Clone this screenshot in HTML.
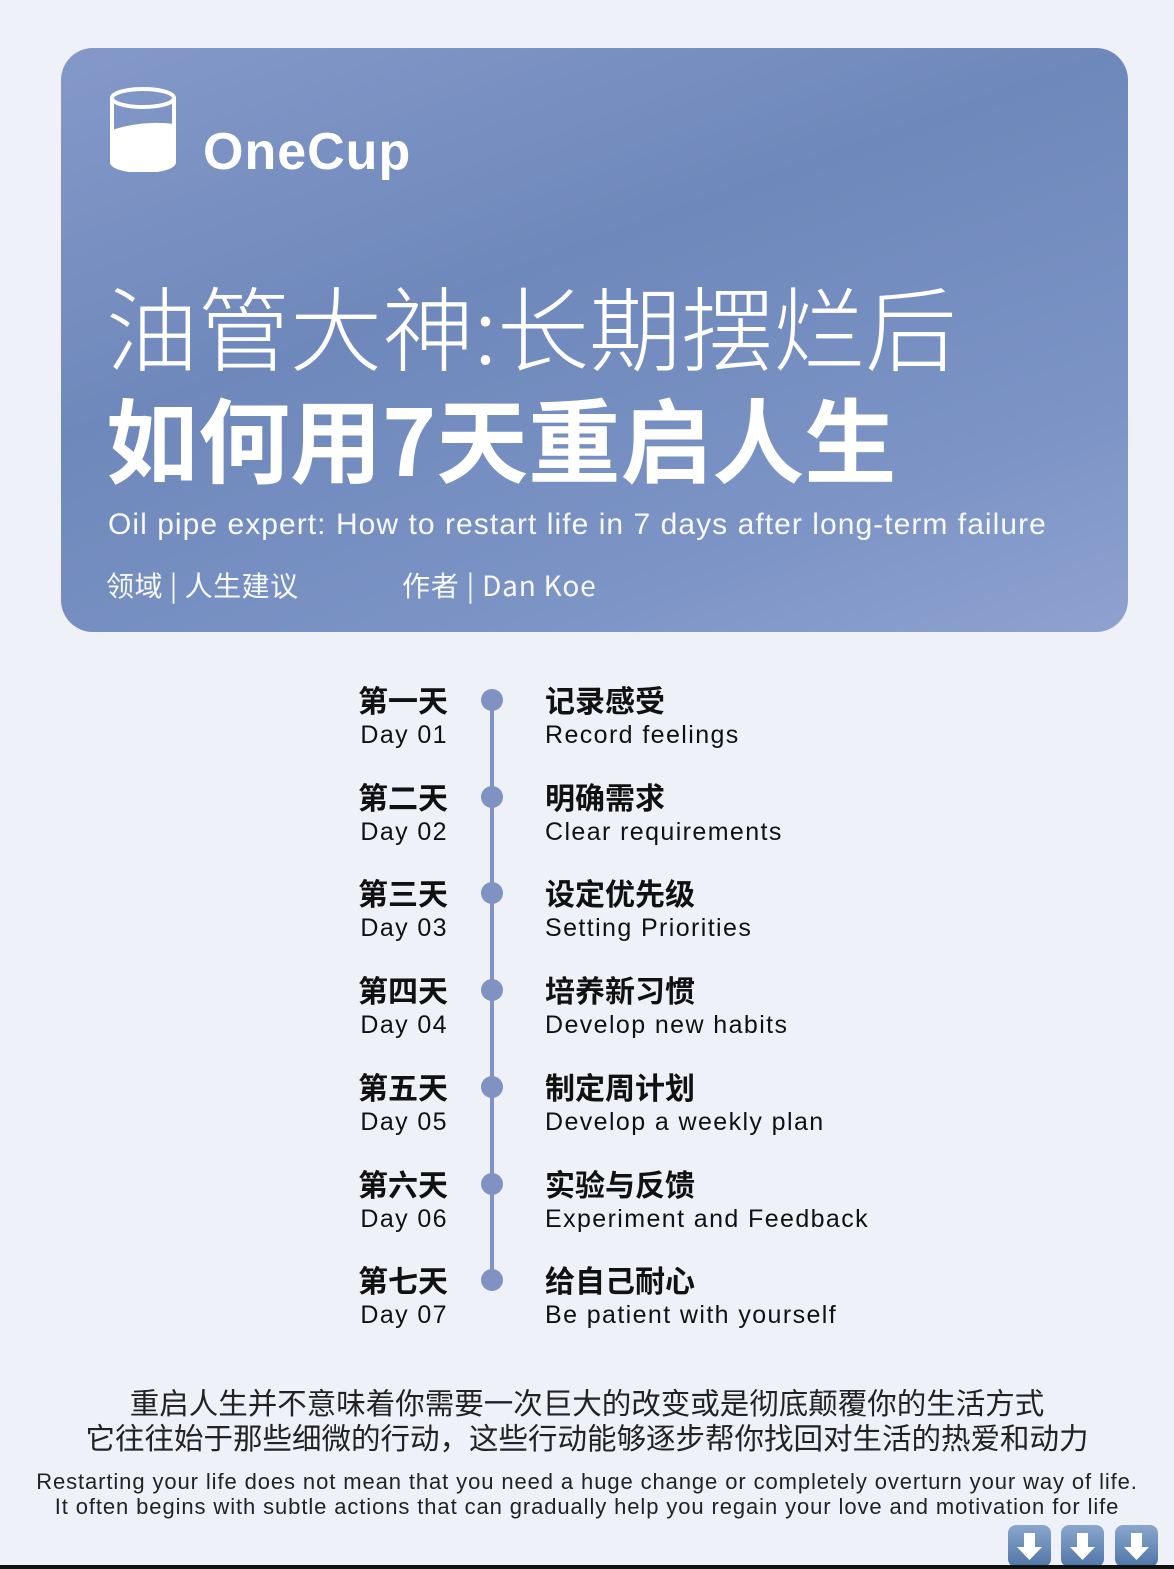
<!DOCTYPE html>
<html><head><meta charset="utf-8"><style>
*{margin:0;padding:0;box-sizing:border-box}
body{width:1174px;height:1569px;background:#eef1f8;position:relative;overflow:hidden;font-family:"Liberation Sans","Noto Sans CJK SC",sans-serif;color:#111}
.a{position:absolute;white-space:nowrap}
#card{position:absolute;left:61px;top:48px;width:1067px;height:584px;border-radius:32px;background:linear-gradient(160deg,#8499c9 0%,#6f88bb 40%,#7b93c5 75%,#8ea2d0 100%)}
.w{color:#fff}
.cn{font-family:"Noto Sans CJK SC",sans-serif}
.lt{right:726px;text-align:right}
.rt{left:545px}
.h{font-size:30px;font-weight:700;font-family:"Noto Sans CJK SC",sans-serif;line-height:1}
.e{font-size:25px;line-height:1;letter-spacing:1.4px}
.dot{position:absolute;left:481px;width:22px;height:22px;border-radius:50%;background:#7f92c1}
.arrow{position:absolute;top:1525px;width:43px;height:42px;border-radius:8px;background:linear-gradient(#8aa6cc,#4f76a8);}
.arrow svg{position:absolute;left:0;top:0}
</style></head><body>
<div id="card"></div>
<svg class="a" style="left:108px;top:84px" width="70" height="88">
<path d="M4 14 L4 78 A31 9 0 0 0 66 78 L66 14" fill="none" stroke="#fff" stroke-width="4"/>
<path d="M4 46 Q35 36 66 40 L66 78 A31 9 0 0 1 4 78 Z" fill="#fff"/>
<ellipse cx="35" cy="14" rx="31" ry="9" fill="none" stroke="#fff" stroke-width="4"/>
</svg>
<div class="a w" style="left:203px;top:122px;font-size:52px;font-weight:700;letter-spacing:1px">OneCup</div>
<div class="a w cn" style="left:106px;top:274px;font-size:92px;font-weight:300;line-height:1.1">油管大神:长期摆烂后</div>
<div class="a w cn" style="left:106px;top:386px;font-size:92px;font-weight:700;line-height:1.1">如何用7天重启人生</div>
<div class="a w" style="left:108px;top:508px;font-size:30px;letter-spacing:1.05px;opacity:.95">Oil pipe expert: How to restart life in 7 days after long-term failure</div>
<div class="a w cn" style="left:106px;top:565px;font-size:28px;letter-spacing:0.5px;opacity:.95">领域 | 人生建议</div>
<div class="a w cn" style="left:402px;top:565px;font-size:28px;letter-spacing:0.8px;opacity:.95">作者 | Dan Koe</div>

<div class="a" style="left:490px;top:700px;width:4px;height:580px;background:#8093c2"></div>
<div id="tl"></div>

<div class="a cn" style="left:0;width:1174px;text-align:center;top:1385px;font-size:29.5px;line-height:35px;color:#222">重启人生并不意味着你需要一次巨大的改变或是彻底颠覆你的生活方式<br>它往往始于那些细微的行动，这些行动能够逐步帮你找回对生活的热爱和动力</div>
<div class="a" style="left:0;width:1174px;text-align:center;top:1469px;font-size:22px;line-height:25px;color:#222;letter-spacing:0.9px">Restarting your life does not mean that you need a huge change or completely overturn your way of life.<br>It often begins with subtle actions that can gradually help you regain your love and motivation for life</div>

<div class="arrow" style="left:1008px"><svg width="43" height="42"><path d="M16 8h11v14h7l-12.5 13L9 22h7z" fill="#fff"/></svg></div>
<div class="arrow" style="left:1061px"><svg width="43" height="42"><path d="M16 8h11v14h7l-12.5 13L9 22h7z" fill="#fff"/></svg></div>
<div class="arrow" style="left:1115px"><svg width="43" height="42"><path d="M16 8h11v14h7l-12.5 13L9 22h7z" fill="#fff"/></svg></div>
<div class="a" style="left:0;top:1565px;width:1174px;height:4px;background:#111"></div>

<script>
const dayCn=["第一天","第二天","第三天","第四天","第五天","第六天","第七天"];
const dayEn=["Day  01","Day 02","Day 03","Day 04","Day 05","Day 06","Day 07"];
const stepCn=["记录感受","明确需求","设定优先级","培养新习惯","制定周计划","实验与反馈","给自己耐心"];
const stepEn=["Record feelings","Clear requirements","Setting Priorities","Develop new habits","Develop a weekly plan","Experiment and Feedback","Be patient with yourself"];
const tl=document.getElementById('tl');
function add(cls,top,txt,name){const d=document.createElement('div');d.className='a '+cls;d.style.top=top+'px';d.textContent=txt;


tl.appendChild(d);return d;}
dayCn.forEach((c,i)=>{const y=700+i*96.7;
const dot=document.createElement('div');dot.className='dot';dot.style.top=(y-11)+'px';


tl.appendChild(dot);
add('lt h',y-16,c,'day-label-cn');
add('lt e',y+23,dayEn[i],'day-label-en');
add('rt h',y-16,stepCn[i],'step-title-cn');
add('rt e',y+23,stepEn[i],'step-title-en');});
</script>
</body></html>
